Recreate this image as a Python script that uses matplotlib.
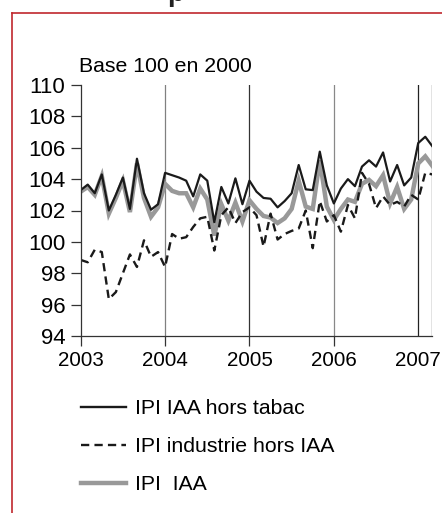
import numpy as np
import matplotlib.pyplot as plt
from matplotlib.lines import Line2D

plt.rcParams['font.family'] = ['Liberation Sans', 'DejaVu Sans']

# monthly values, Jan 2003 .. Mar 2007
iaaHorsTabac = [103.3, 103.65, 103.1, 104.3, 102.0, 103.0, 104.1, 102.1, 105.3, 103.1, 102.05, 102.4,
                104.4, 104.25, 104.1, 103.9, 102.9, 104.3, 103.9, 101.25, 103.5, 102.45, 104.05, 102.4,
                103.9, 103.2, 102.8, 102.75, 102.2, 102.6, 103.1, 104.9, 103.35, 103.3, 105.75, 103.6,
                102.45, 103.4, 104.0, 103.55, 104.8, 105.2, 104.8, 105.7, 103.85, 104.9, 103.6, 104.1,
                106.3, 106.7, 106.1]
industrieHorsIaa = [98.85, 98.7, 99.5, 99.35, 96.35, 96.8, 98.0, 99.2, 98.4, 100.1, 99.05, 99.35,
                    98.4, 100.5, 100.2, 100.3, 100.95, 101.5, 101.6, 99.45, 101.7, 102.2, 101.2, 101.9,
                    102.2, 101.7, 99.7, 101.8, 100.15, 100.5, 100.7, 100.85, 102.0, 99.6, 102.6, 101.3,
                    101.7, 100.65, 102.35, 101.5, 104.4, 103.7, 102.15, 102.9, 102.35, 102.55, 102.25, 103.0,
                    102.7, 104.4, 104.3]
iaa = [103.2, 103.5, 103.0, 104.2, 101.8, 102.8, 103.9, 101.9, 105.0, 102.8, 101.6, 102.2,
       103.7, 103.25, 103.1, 103.1, 102.2, 103.4, 102.7, 100.4, 102.4, 101.35, 102.5, 101.3,
       102.65, 102.1, 101.65, 101.55, 101.2, 101.5, 102.1, 103.9, 102.25, 102.1, 105.2, 102.25,
       101.4, 102.1, 102.7, 102.55, 103.7, 103.95, 103.55, 104.25, 102.45, 103.5, 102.1, 102.7,
       105.0, 105.45, 104.85]
years = [2003, 2004, 2005, 2006, 2007]
labels = ['IPI IAA hors tabac', 'IPI industrie hors IAA', 'IPI  IAA']

W, H = 442, 513
fig = plt.figure(figsize=(W / 100, H / 100), dpi=100)
x = 2003 + np.arange(len(iaa)) / 12

# red frame, partly cut by the picture edge
fig.add_artist(Line2D([12 / W, 12 / W], [0, 1 - 13 / H], color='#c0282d', lw=1.2))
fig.add_artist(Line2D([12 / W, 1], [1 - 13 / H, 1 - 13 / H], color='#c0282d', lw=1.2))
fig.text(176 / W, 1 + 6 / H, 'p', fontsize=20, fontweight='bold', ha='center', va='center', color='#222222')

ax = fig.add_axes([80.7 / W, 177 / H, 351.6 / W, 251 / H])
ax.plot(x, iaa, color='#999999', lw=3.2, solid_joinstyle='miter', label=labels[2])
ax.plot(x, industrieHorsIaa, color='#1a1a1a', lw=1.7, dashes=(3.5, 2.2), label=labels[1])
ax.plot(x, iaaHorsTabac, color='#1a1a1a', lw=1.6, label=labels[0])

for yr, c in zip([2004, 2005, 2006, 2007], ['#808080', '#333333', '#888888', '#222222']):
    ax.axvline(yr, color=c, lw=0.9, zorder=0)
ax.axvline(2007 + 2 / 12, color='#222222', lw=0.9, zorder=0)

ax.set_xlim(2003, 2007 + 2 / 12)
ax.set_ylim(94, 110)
ax.set_yticks(range(94, 111, 2))
ax.set_xticks(years)
ax.tick_params(direction='out', length=7, width=0.9, color='#333333', pad=4)
ax.tick_params(axis='x', labelsize=14.8)
ax.tick_params(axis='y', labelsize=16)
ax.xaxis.get_major_ticks()[-1].tick1line.set_visible(False)
for s in ['top', 'right']:
    ax.spines[s].set_visible(False)
for s in ['left', 'bottom']:
    ax.spines[s].set_linewidth(0.9)
    ax.spines[s].set_color('#333333')
ax.text(-0.005, 1.035, 'Base 100 en 2000', transform=ax.transAxes, fontsize=15.3, va='bottom', ha='left')

handles = [Line2D([], [], color='#1a1a1a', lw=1.7),
           Line2D([], [], color='#1a1a1a', lw=1.7, dashes=(3.5, 2.2)),
           Line2D([], [], color='#999999', lw=3.2)]
fig.legend(handles, labels, loc='upper left', bbox_to_anchor=(62 / W, 1 - 380 / H), frameon=False,
           fontsize=15.3, handlelength=2.1, handletextpad=0.45, labelspacing=0.9)

fig.savefig('out.png', dpi=100)
